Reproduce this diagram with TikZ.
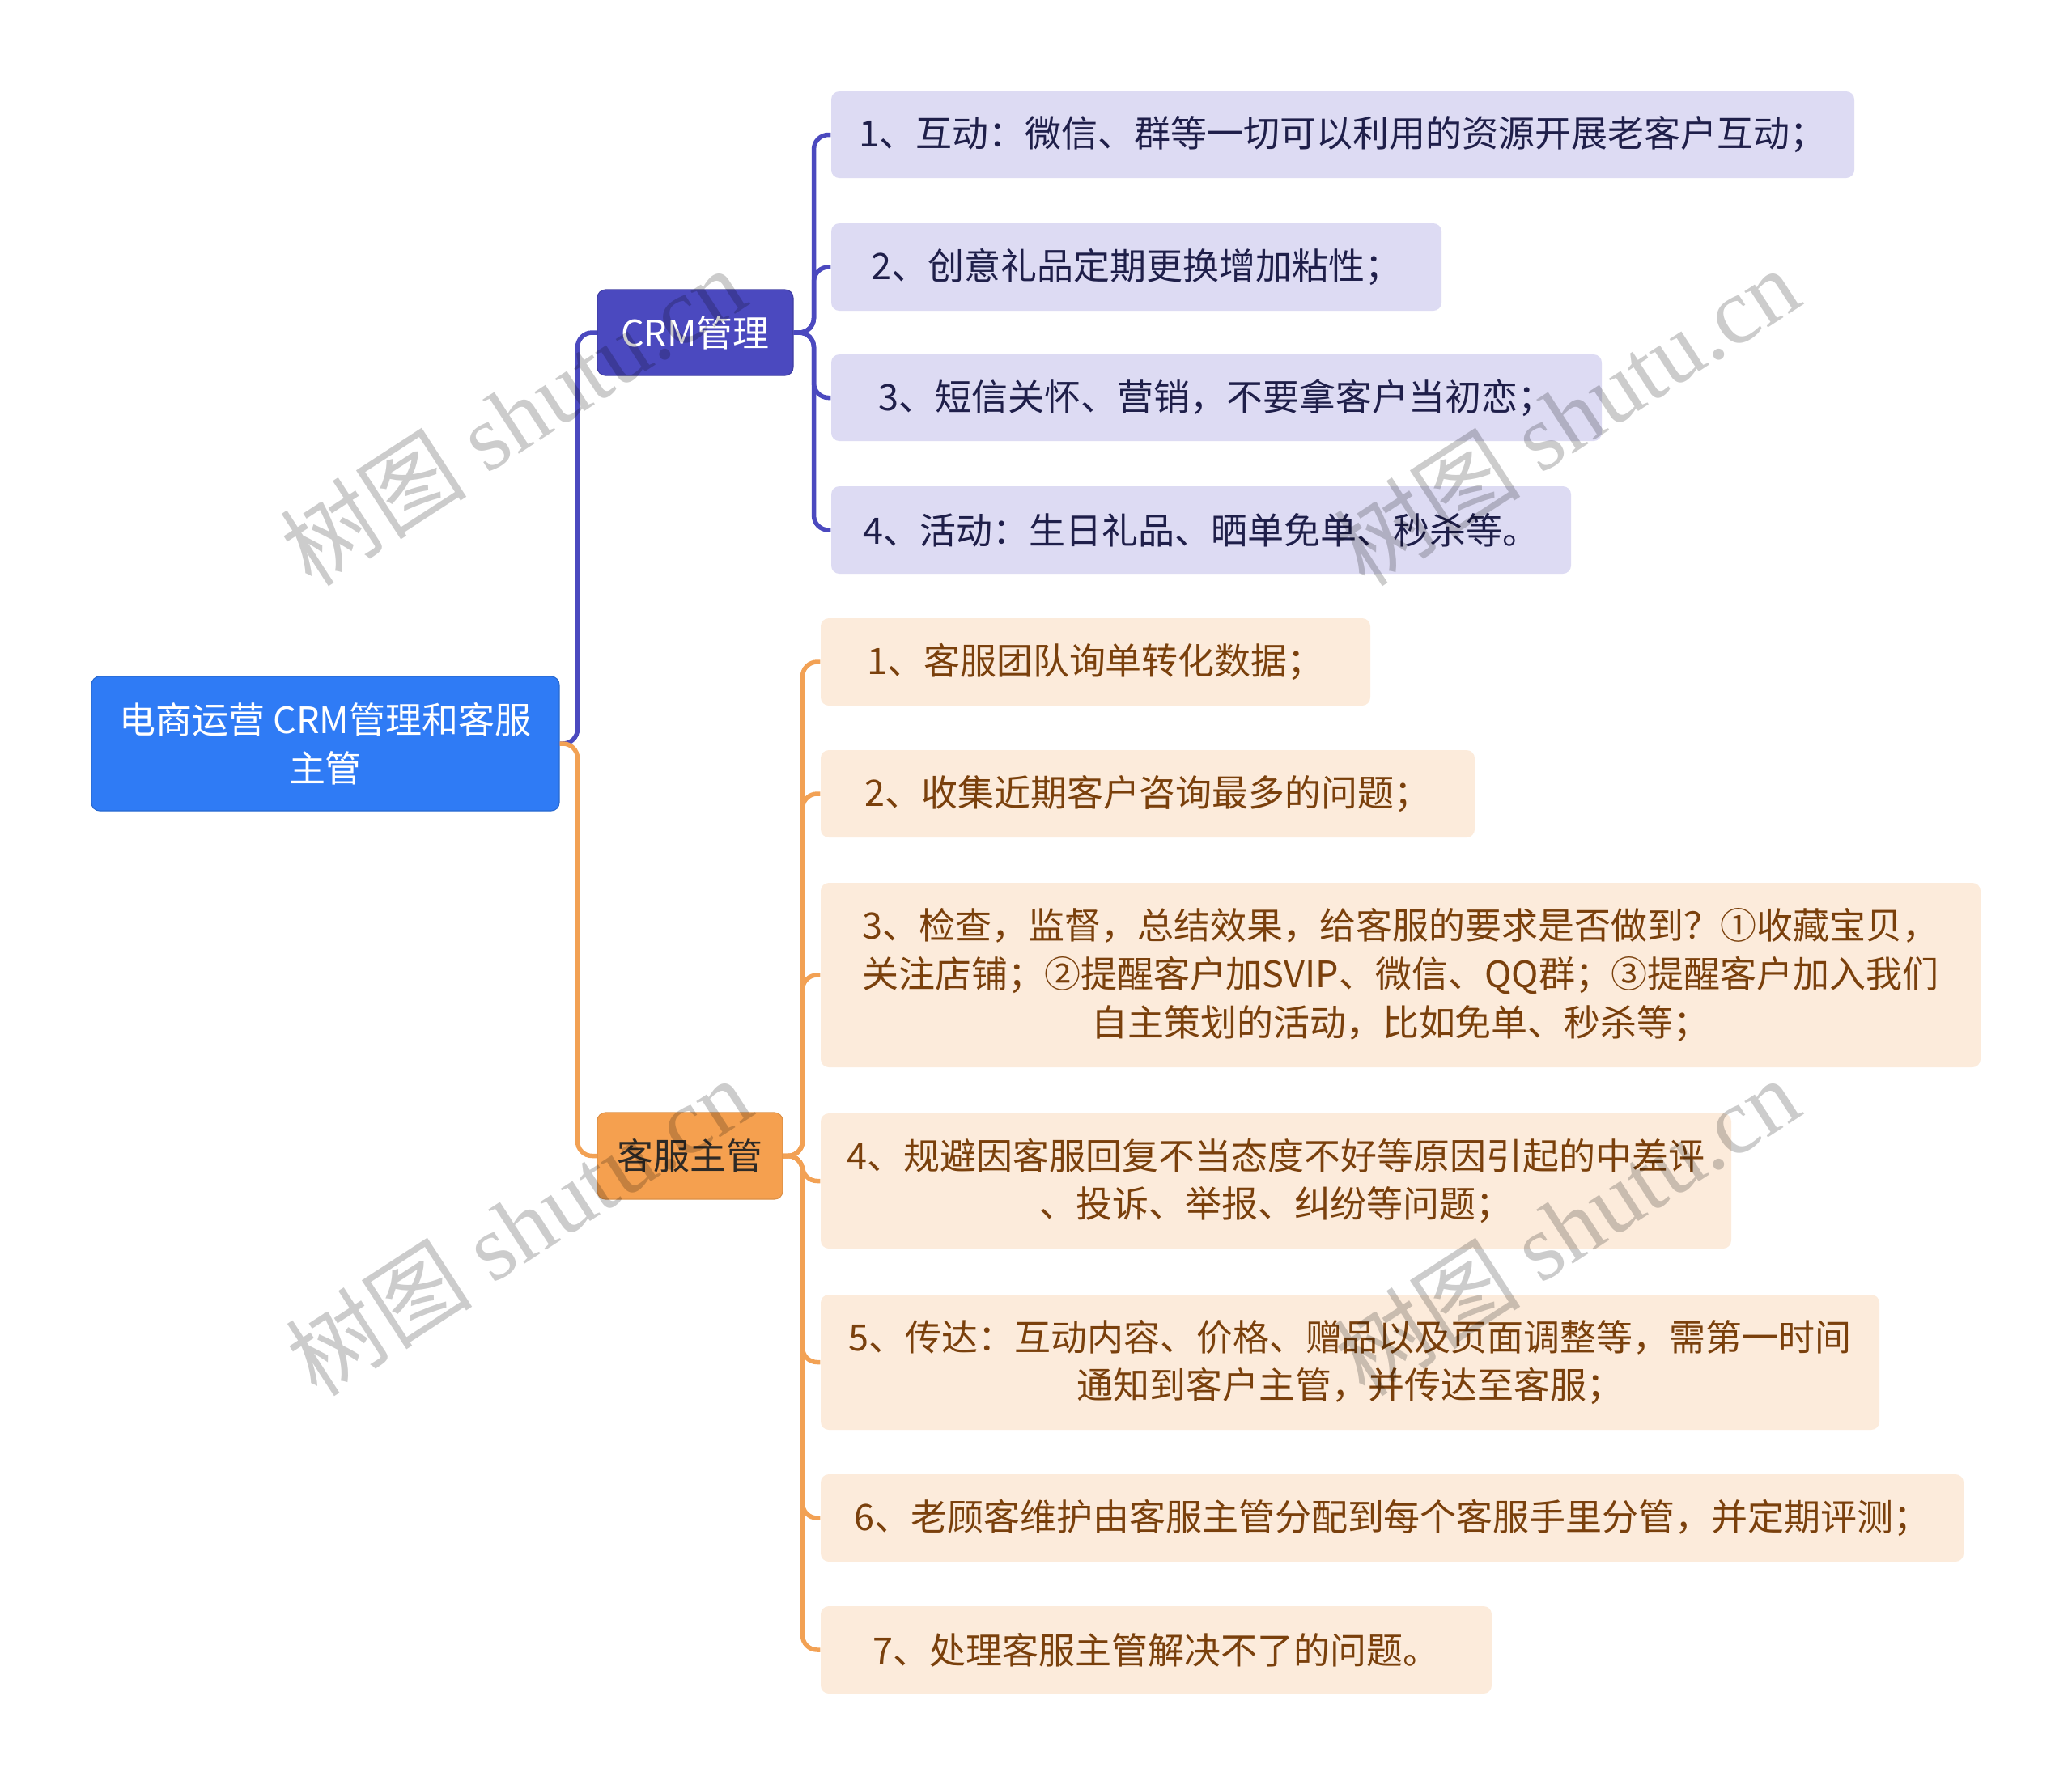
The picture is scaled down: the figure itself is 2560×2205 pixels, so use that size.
\documentclass[tikz,border=0pt]{standalone}
\usepackage{fontspec}
\setmainfont{Noto Sans CJK SC}
\newfontfamily\wmserif{Liberation Serif}
\definecolor{rootblue}{HTML}{2F7BF5}
\definecolor{crmblue}{HTML}{4B49BF}
\definecolor{crmleaf}{HTML}{DDDBF3}
\definecolor{crmtext}{HTML}{1F1F4A}
\definecolor{kforange}{HTML}{F5A04F}
\definecolor{kftext}{HTML}{2E2A26}
\definecolor{kfleaf}{HTML}{FCEBDB}
\definecolor{kfleaftext}{HTML}{7A400C}
\definecolor{kfline}{HTML}{F2A154}
\begin{document}
\begin{tikzpicture}[x=0.1mm,y=-0.1mm,
  box/.style={rounded corners=1mm, inner sep=0pt, align=center,
    font=\fontsize{12.8pt}{17pt}\selectfont},
  rootbox/.style={box, fill=rootblue, draw=rootblue!85!black, line width=0.3pt, text=white},
  crmbox/.style={box, fill=crmblue, draw=crmblue!85!black, line width=0.3pt, text=white},
  kfbox/.style={box, fill=kforange, draw=kforange!90!black, line width=0.3pt, text=kftext},
  crmleafbox/.style={box, fill=crmleaf, text=crmtext},
  kfleafbox/.style={box, fill=kfleaf, text=kfleaftext},
  crmconn/.style={draw=crmblue, line width=0.55mm, rounded corners=1.8mm},
  kfconn/.style={draw=kfline, line width=0.55mm, rounded corners=1.8mm},
  wm/.style={text=black, text opacity=0.2, font=\fontsize{33pt}{36pt}\selectfont, inner sep=0pt}
]
\useasboundingbox (0,0) rectangle (2560,2205);

% main nodes
\node[rootbox, minimum width=57.8mm, minimum height=16.6mm] (root) at (402,919)
  {电商运营 CRM管理和客服\\主管};
\node[crmbox, minimum width=24.2mm, minimum height=10.6mm] (crm) at (859,411) {CRM管理};
\node[kfbox, minimum width=22.9mm, minimum height=10.7mm] (kf) at (852.5,1428.5) {客服主管};

% CRM leaves
\node[crmleafbox, minimum width=126.4mm, minimum height=10.7mm] (c1) at (1659,166.5)
  {1、互动：微信、群等一切可以利用的资源开展老客户互动；};
\node[crmleafbox, minimum width=75.4mm, minimum height=10.8mm] (c2) at (1404,330)
  {2、创意礼品定期更换增加粘性；};
\node[crmleafbox, minimum width=95.2mm, minimum height=10.7mm] (c3) at (1503,491.5)
  {3、短信关怀、营销，不要拿客户当初恋；};
\node[crmleafbox, minimum width=91.4mm, minimum height=10.8mm] (c4) at (1484,655)
  {4、活动：生日礼品、晒单免单、秒杀等。};

% KF leaves
\node[kfleafbox, minimum width=67.9mm, minimum height=10.8mm] (k1) at (1353.5,818)
  {1、客服团队询单转化数据；};
\node[kfleafbox, minimum width=80.8mm, minimum height=10.8mm] (k2) at (1418,981)
  {2、收集近期客户咨询最多的问题；};
\node[kfleafbox, minimum width=143.3mm, minimum height=22.8mm] (k3) at (1730.5,1205)
  {3、检查，监督，总结效果，给客服的要求是否做到？①收藏宝贝，\\关注店铺；②提醒客户加SVIP、微信、QQ群；③提醒客户加入我们\\自主策划的活动，比如免单、秒杀等；};
\node[kfleafbox, minimum width=112.5mm, minimum height=16.7mm] (k4) at (1576.5,1459.5)
  {4、规避因客服回复不当态度不好等原因引起的中差评\\、投诉、举报、纠纷等问题；};
\node[kfleafbox, minimum width=130.8mm, minimum height=16.7mm] (k5) at (1668,1683.5)
  {5、传达：互动内容、价格、赠品以及页面调整等，需第一时间\\通知到客户主管，并传达至客服；};
\node[kfleafbox, minimum width=141.2mm, minimum height=10.8mm] (k6) at (1720,1876)
  {6、老顾客维护由客服主管分配到每个客服手里分管，并定期评测；};
\node[kfleafbox, minimum width=82.9mm, minimum height=10.8mm] (k7) at (1428.5,2039)
  {7、处理客服主管解决不了的问题。};

% connectors
\draw[crmconn] (root.east) -- ++(22,0) |- (crm.west);
\draw[kfconn] (root.east) -- ++(22,0) |- (kf.west);
\foreach \n in {c1,c2,c3,c4}
  \draw[crmconn] (crm.east) -- ++(25,0) |- (\n.west);
\foreach \n in {k1,k2,k3,k4,k5,k6,k7}
  \draw[kfconn] (kf.east) -- ++(24,0) |- (\n.west);

% watermarks
\node[wm, rotate=33] (wm1) at (633,514) {树图 {\wmserif shutu.cn}};
\node[wm, rotate=33] (wm2) at (1935,514) {树图 {\wmserif shutu.cn}};
\node[wm, rotate=33] (wm3) at (640,1515) {树图 {\wmserif shutu.cn}};
\node[wm, rotate=33] (wm4) at (1935,1515) {树图 {\wmserif shutu.cn}};
\end{tikzpicture}
\end{document}
